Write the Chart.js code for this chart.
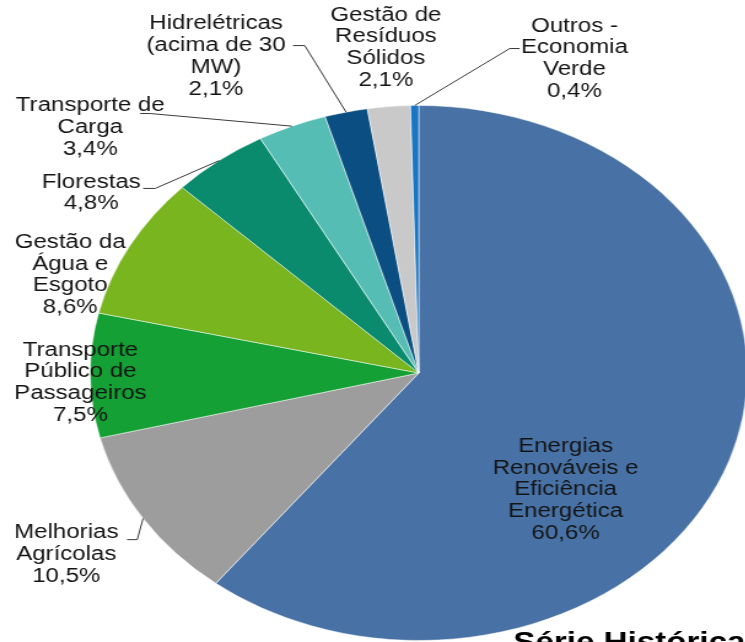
<!DOCTYPE html>
<html>
<head>
<meta charset="utf-8">
<script src="https://cdn.jsdelivr.net/npm/chart.js@4.4.1/dist/chart.umd.min.js"></script>
<style>
  html, body { margin: 0; padding: 0; background: #fff; overflow: hidden; }
  #stage { width: 745px; height: 642px; position: relative; overflow: hidden; }
  /* the source picture is stretched sideways, so the pie is drawn round and widened */
  #wrap { position: absolute; left: 0; top: 0; width: 620px; height: 642px; transform: scaleX(1.228); transform-origin: 0 0; }
</style>
</head>
<body>
<div id="stage"><div id="wrap"><canvas id="pie" width="620" height="642"></canvas></div></div>
<script>
const categories = [
    ["Energias", "Renováveis e", "Eficiência", "Energética"],
    ["Melhorias", "Agrícolas"],
    ["Transporte", "Público de", "Passageiros"],
    ["Gestão da", "Água e", "Esgoto"],
    ["Florestas"],
    ["Transporte de", "Carga"],
    ["Hidrelétricas", "(acima de 30", "MW)"],
    ["Gestão de", "Resíduos", "Sólidos"],
    ["Outros -", "Economia", "Verde"],
];
const shares = [60.6, 10.5, 7.5, 8.6, 4.8, 3.4, 2.1, 2.1, 0.4];
const sliceColors = [
    "#4872a6", "#9d9d9d", "#15a035", "#79b51f", "#0b8b6d",
    "#56bdb4", "#0b4f82", "#c9c9c9", "#1a75c2",
];
const footnote = "Série Histórica";

// where each label sits, in pie radii from the centre; elbow/tail = leader line
const labelSpots = [
    { u: 0.447, v: 0.437 },
    { u: -1.073, v: 0.679, elbow: [-0.857, 0.623], tail: -0.888 },
    { u: -1.030, v: 0.037 },
    { u: -1.061, v: -0.366 },
    { u: -0.997, v: -0.672, elbow: [-0.802, -0.690], tail: -0.839 },
    { u: -1.000, v: -0.918, elbow: [-0.818, -0.970], tail: -0.848 },
    { u: -0.617, v: -1.183, elbow: [-0.347, -1.224], tail: -0.383 },
    { u: -0.100, v: -1.216 },
    { u: 0.474, v: -1.175, elbow: [0.277, -1.213], tail: 0.307 },
];
const LINE = 21.7;

const fmt = (v) => v.toFixed(1).replace(".", ",") + "%";

const pieLabels = {
    id: "pieLabels",
    afterDatasetsDraw(chart) {
        const ctx = chart.ctx;
        const arcs = chart.getDatasetMeta(0).data;
        ctx.save();
        ctx.font = '19.6px "Liberation Sans", Arial, sans-serif';
        ctx.fillStyle = "#141414";
        ctx.textAlign = "center";
        ctx.textBaseline = "middle";
        ctx.strokeStyle = "#3a3a3a";
        ctx.lineWidth = 1;
        arcs.forEach((arc, i) => {
            const { x, y, startAngle, endAngle, outerRadius: r } =
                arc.getProps(["x", "y", "startAngle", "endAngle", "outerRadius"], true);
            const spot = labelSpots[i];
            const lines = chart.data.labels[i].concat(fmt(shares[i]));
            const lx = x + spot.u * r;
            const top = y + spot.v * r - (lines.length - 1) * LINE / 2;
            lines.forEach((t, k) => ctx.fillText(t, lx, top + k * LINE));
            if (spot.elbow) {
                const mid = (startAngle + endAngle) / 2;
                ctx.beginPath();
                ctx.moveTo(x + r * Math.cos(mid), y + r * Math.sin(mid));
                ctx.lineTo(x + spot.elbow[0] * r, y + spot.elbow[1] * r);
                ctx.lineTo(x + spot.tail * r, y + spot.elbow[1] * r);
                ctx.stroke();
            }
        });
        // bottom caption, mostly cut off by the frame
        ctx.font = 'bold 27px "Liberation Sans", Arial, sans-serif';
        ctx.fillStyle = "#000";
        ctx.textAlign = "left";
        ctx.textBaseline = "alphabetic";
        ctx.fillText(footnote, 418, 651);
        ctx.restore();
    },
};

new Chart(document.getElementById("pie"), {
    type: "pie",
    data: {
        labels: categories,
        datasets: [{
            data: shares,
            backgroundColor: sliceColors,
            borderColor: "rgba(255,255,255,0.5)",
            borderWidth: 1,
            hoverBorderWidth: 1,
            hoverOffset: 0,
        }],
    },
    options: {
        responsive: false,
        animation: false,
        layout: { padding: { top: 105, left: 73, bottom: 1, right: 11 } },
        plugins: {
            legend: { display: false },
            tooltip: { enabled: false },
        },
    },
    plugins: [pieLabels],
});
</script>
</body>
</html>
